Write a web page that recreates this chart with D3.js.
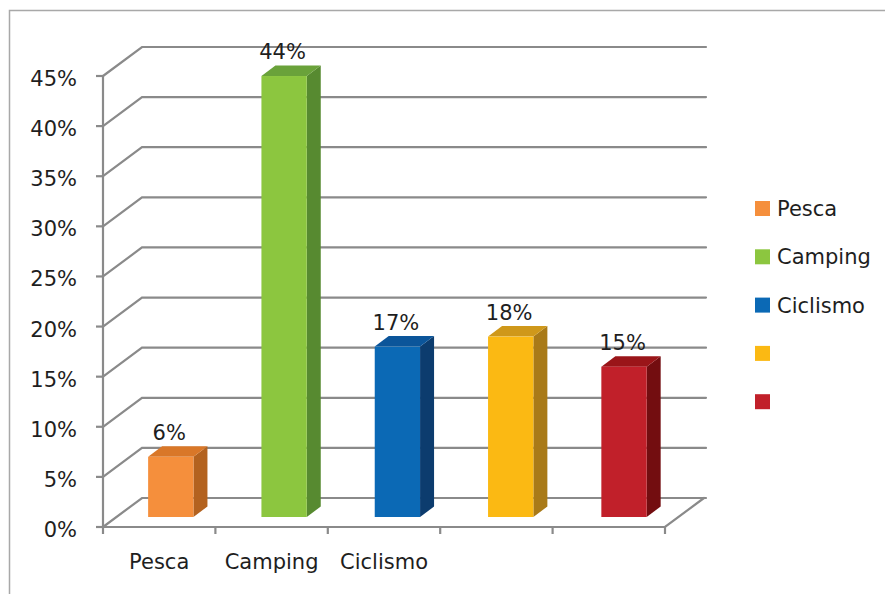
<!DOCTYPE html>
<html>
<head>
<meta charset="utf-8">
<script src="https://cdn.jsdelivr.net/npm/d3@7/dist/d3.min.js"></script>
<style>
  html, body { margin: 0; padding: 0; background: #fff; }
  svg { display: block; }
  text { font-family: "DejaVu Sans", sans-serif; fill: #1e1e1e; }
</style>
</head>
<body>
<svg id="chart" width="885" height="594"></svg>
<script>
// Activity shares
const categories = ["Pesca", "Camping", "Ciclismo", "Otro 1", "Otro 2"];
const axisLabels = ["Pesca", "Camping", "Ciclismo", "", ""];
const values = [6, 44, 17, 18, 15];
const legendLabels = ["Pesca", "Camping", "Ciclismo", "", ""];
const yTicks = [0, 5, 10, 15, 20, 25, 30, 35, 40, 45];

// face colours per bar: front, side, top
const frontColors = ["#f58f3c", "#8cc63f", "#0b69b5", "#fbb913", "#c1202a"];
const sideColors  = ["#b3621f", "#578a30", "#0c3c6e", "#a97a18", "#730d10"];
const topColors   = ["#d97728", "#6aa23a", "#0b559a", "#cf981a", "#9a1519"];

const svg = d3.select("#chart");
const fontSize = 21;

// plot geometry
const plotLeft = 103, plotRight = 665, plotBottom = 527, plotTop = 76;
const depthX = 39, depthY = -29;          // floor depth (oblique)
const planeX = 13.4, planeY = -10;        // bar front plane inside the floor
const barDX = 14, barDY = -10.5;          // bar thickness

const y = d3.scaleLinear().domain([0, 45]).range([plotBottom, plotTop]);
const xCat = d3.scaleBand().domain(categories).range([plotLeft, plotRight]).padding(0);
const xBar = d3.scaleBand().domain(categories).range([plotLeft, plotRight])
  .paddingInner(0.6).paddingOuter(0.28);

// outer frame (left and top edges)
svg.append("path")
  .attr("d", "M9.5,594 L9.5,10.5 L885,10.5")
  .attr("fill", "none").attr("stroke", "#a8a8a8").attr("stroke-width", 1.5);

const grid = svg.append("g")
  .attr("stroke", "#8a8a8a").attr("stroke-width", 2.2).attr("fill", "none")
  .attr("stroke-linecap", "round");

// back-wall gridlines with their diagonal connectors to the front axis
yTicks.forEach(t => {
  const yy = y(t);
  grid.append("path")
    .attr("d", `M${plotLeft},${yy} L${plotLeft + depthX},${yy + depthY} L${plotRight + depthX + 2},${yy + depthY}`);
});
// floor front edge and right edge
grid.append("path")
  .attr("d", `M${plotLeft},${plotBottom} L${plotRight},${plotBottom} L${plotRight + depthX},${plotBottom + depthY}`);
// vertical axis
grid.append("line")
  .attr("x1", plotLeft).attr("x2", plotLeft).attr("y1", y(45)).attr("y2", plotBottom);

// y ticks and labels
const yAxis = svg.append("g");
yTicks.forEach(t => {
  yAxis.append("line")
    .attr("x1", plotLeft - 7).attr("x2", plotLeft)
    .attr("y1", y(t)).attr("y2", y(t))
    .attr("stroke", "#8a8a8a").attr("stroke-width", 2.2);
  yAxis.append("text")
    .attr("x", 77).attr("y", y(t) + 10)
    .attr("text-anchor", "end").attr("font-size", fontSize)
    .text(t + "%");
});

// category ticks at band boundaries and labels
const xAxis = svg.append("g");
const bounds = categories.map(c => xCat(c)).concat([plotRight]);
bounds.forEach(bx => {
  xAxis.append("line")
    .attr("x1", bx).attr("x2", bx).attr("y1", plotBottom).attr("y2", plotBottom + 7)
    .attr("stroke", "#8a8a8a").attr("stroke-width", 2.2);
});
categories.forEach((c, i) => {
  xAxis.append("text")
    .attr("x", xCat(c) + xCat.bandwidth() / 2).attr("y", 569)
    .attr("text-anchor", "middle").attr("font-size", fontSize)
    .text(axisLabels[i]);
});

// 3D bars
const bars = svg.append("g");
categories.forEach((c, i) => {
  const x0 = xBar(c) + planeX;
  const w = xBar.bandwidth();
  const y0 = y(0) + planeY;
  const y1 = y(values[i]) + planeY;
  const g = bars.append("g");
  // side
  g.append("path")
    .attr("d", `M${x0 + w},${y0} L${x0 + w + barDX},${y0 + barDY} L${x0 + w + barDX},${y1 + barDY} L${x0 + w},${y1} Z`)
    .attr("fill", sideColors[i]);
  // top
  g.append("path")
    .attr("d", `M${x0},${y1} L${x0 + barDX},${y1 + barDY} L${x0 + w + barDX},${y1 + barDY} L${x0 + w},${y1} Z`)
    .attr("fill", topColors[i]);
  // front
  g.append("rect")
    .attr("x", x0).attr("y", y1).attr("width", w).attr("height", y0 - y1)
    .attr("fill", frontColors[i]);
  // value label
  g.append("text")
    .attr("x", x0 + w / 2 - 1.5).attr("y", y1 - 17)
    .attr("text-anchor", "middle").attr("font-size", fontSize)
    .text(values[i] + "%");
});

// legend
const legend = svg.append("g");
legendLabels.forEach((lab, i) => {
  const ly = 201 + i * 48.3;
  legend.append("rect")
    .attr("x", 755).attr("y", ly).attr("width", 15).attr("height", 15)
    .attr("fill", frontColors[i]);
  legend.append("text")
    .attr("x", 777).attr("y", ly + 15)
    .attr("font-size", fontSize)
    .text(lab);
});
</script>
</body>
</html>
